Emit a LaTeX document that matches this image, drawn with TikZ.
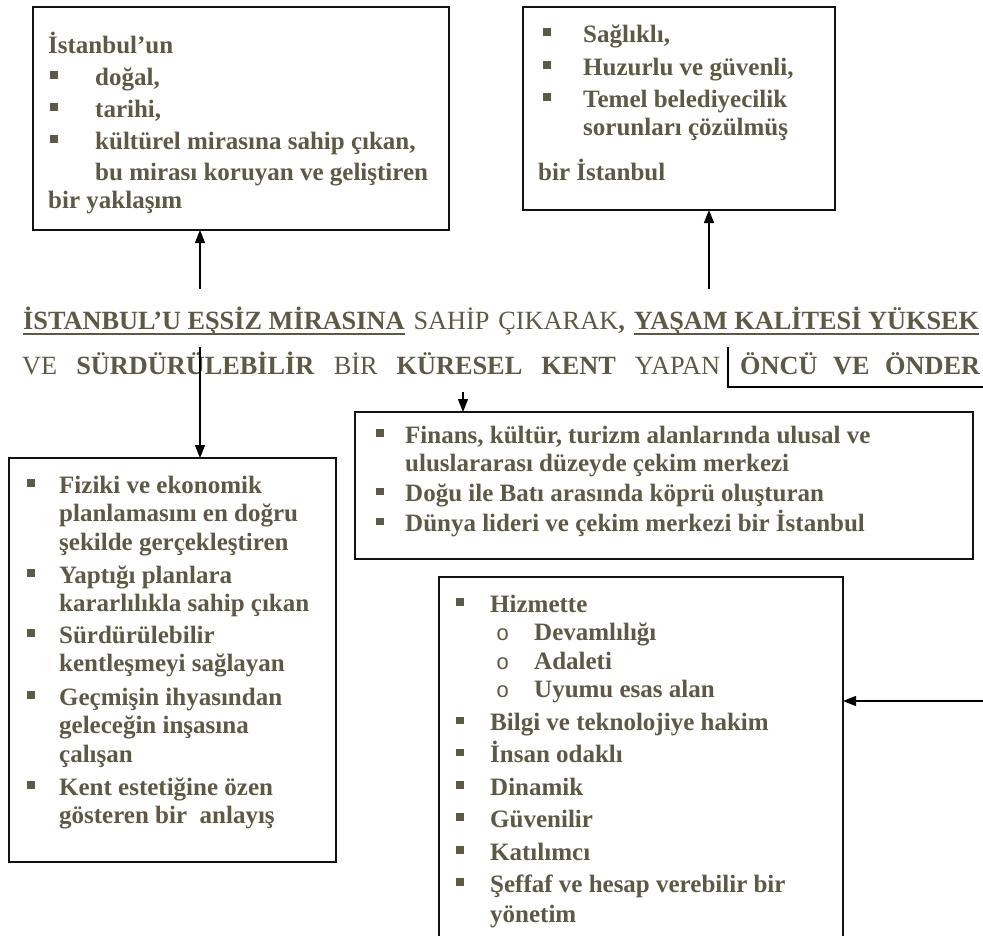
\documentclass[tikz,border=0pt]{standalone}
\usepackage{fontspec}
\setmainfont{Liberation Serif}
\newfontfamily\monofam{Liberation Mono}
\usetikzlibrary{arrows.meta}

\definecolor{ink}{RGB}{94,89,69}
\definecolor{rim}{RGB}{18,18,18}

% square bullet, ring bullet, list rows
\newcommand\sq{\raisebox{6.5pt}{\rule{7.5pt}{7.5pt}}}
\newcommand\ring{{\monofam\mdseries\fontsize{22}{22}\selectfont o}}
\newcommand\bitem[3]{\hbox{\hspace*{#1}\makebox[#2][l]{\sq}#3}}
\newcommand\ritem[3]{\hbox{\hspace*{#1}\makebox[#2][l]{\ring}#3}}
\newcommand\cont[2]{\hbox{\hspace*{#1}#2}}
% underlined phrase
\newcommand\ulbox[1]{\setbox0=\hbox{#1}\rlap{\rule[-6pt]{\wd0}{2pt}}\box0\relax}

\tikzset{
  frame/.style={draw=rim, line width=1.8pt, anchor=north west, inner sep=0pt, outer sep=0pt},
  listtext/.style={anchor=base west, inner sep=0pt, text=ink,
    font=\fontsize{25}{28.5}\selectfont\bfseries},
  titletext/.style={anchor=base west, inner sep=0pt, text=ink,
    font=\fontsize{26.3}{30}\selectfont},
  arr/.style={draw=black, line width=1.3pt, -{Triangle[width=10pt,length=13pt]}},
  wire/.style={draw=black, line width=1.3pt}
}

\begin{document}
\begin{tikzpicture}[x=1pt,y=-1pt]
\useasboundingbox (0,0) rectangle (983,935);
\clip (0,0) rectangle (983,935);
\fill[white] (0,0) rectangle (983,935);

% frames
\node[frame, minimum width=416pt, minimum height=223pt] (boxA) at (33,7) {};
\node[frame, minimum width=312pt, minimum height=203pt] (boxB) at (523,7) {};
\node[frame, minimum width=327pt, minimum height=404pt] (boxL) at (9,458) {};
\node[frame, minimum width=618pt, minimum height=147pt] (boxF) at (355,412) {};
\node[frame, minimum width=404pt, minimum height=400pt] (boxH) at (439,577) {};

% texts in the frames
\node[listtext] (txtA) at (48,53) {\vtop{%
  \cont{0pt}{İstanbul’un}\vskip3.5pt
  \bitem{2pt}{45pt}{doğal,}\vskip3.5pt
  \bitem{2pt}{45pt}{tarihi,}\vskip3.5pt
  \bitem{2pt}{45pt}{kültürel mirasına sahip çıkan,}\vskip2.5pt
  \cont{47pt}{bu mirası koruyan ve geliştiren}\vskip-0.5pt
  \cont{0pt}{bir yaklaşım}}};

\node[listtext] (txtB) at (538,42) {\vtop{%
  \bitem{5pt}{40pt}{Sağlıklı,}\vskip4.5pt
  \bitem{5pt}{40pt}{Huzurlu ve güvenli,}\vskip3.5pt
  \bitem{5pt}{40pt}{Temel belediyecilik}
  \cont{45pt}{sorunları çözülmüş}\vskip16pt
  \cont{0pt}{bir İstanbul}}};

\node[listtext] (txtF) at (376,443) {\vtop{%
  \bitem{0pt}{29pt}{Finans, kültür, turizm alanlarında ulusal ve}
  \cont{29pt}{uluslararası düzeyde çekim merkezi}\vskip1.5pt
  \bitem{0pt}{29pt}{Doğu ile Batı arasında köprü oluşturan}\vskip1.5pt
  \bitem{0pt}{29pt}{Dünya lideri ve çekim merkezi bir İstanbul}}};

\node[listtext] (txtL) at (27,493) {\vtop{%
  \bitem{0pt}{32pt}{Fiziki ve ekonomik}
  \cont{32pt}{planlamasını en doğru}
  \cont{32pt}{şekilde gerçekleştiren}\vskip4.5pt
  \bitem{0pt}{32pt}{Yaptığı planlara}
  \cont{32pt}{kararlılıkla sahip çıkan}\vskip3pt
  \bitem{0pt}{32pt}{Sürdürülebilir}
  \cont{32pt}{kentleşmeyi sağlayan}\vskip5pt
  \bitem{0pt}{32pt}{Geçmişin ihyasından}
  \cont{32pt}{geleceğin inşasına}
  \cont{32pt}{çalışan}\vskip4.5pt
  \bitem{0pt}{32pt}{Kent estetiğine özen}
  \cont{32pt}{gösteren bir~ anlayış}}};

\node[listtext] (txtH) at (456,612) {\vtop{%
  \bitem{0pt}{34pt}{Hizmette}
  \ritem{40pt}{38pt}{Devamlılığı}
  \ritem{40pt}{38pt}{Adaleti}
  \ritem{40pt}{38pt}{Uyumu esas alan}\vskip4.5pt
  \bitem{0pt}{34pt}{Bilgi ve teknolojiye hakim}\vskip3.5pt
  \bitem{0pt}{34pt}{İnsan odaklı}\vskip4pt
  \bitem{0pt}{34pt}{Dinamik}\vskip3.5pt
  \bitem{0pt}{34pt}{Güvenilir}\vskip4.5pt
  \bitem{0pt}{34pt}{Katılımcı}\vskip3.5pt
  \bitem{0pt}{34pt}{Şeffaf ve hesap verebilir bir}\vskip1.5pt
  \cont{34pt}{yönetim}}};

% central statement
\node[titletext] (t1) at (23,329) {\makebox[956pt][s]{\ulbox{\bfseries İSTANBUL’U EŞSİZ MİRASINA} SAHİP ÇIKARAK\textbf{, }\ulbox{\bfseries YAŞAM KALİTESİ YÜKSEK}}};
\node[titletext] (t2a) at (22,374) {\makebox[698pt][s]{VE \textbf{SÜRDÜRÜLEBİLİR} BİR \textbf{KÜRESEL KENT} YAPAN}};
\node[titletext] (t2b) at (740,374) {\makebox[240pt][s]{\bfseries ÖNCÜ VE ÖNDER}};

% connector end points
\coordinate (upA) at (200,289);
\coordinate (upB) at (709,289);
\coordinate (dnL) at (200,347);
\coordinate (dnF) at (463,392);
\coordinate (inH) at (983,701);
\coordinate (brTop) at (728,347);
\coordinate (brEnd) at (983,387);

% connectors
\draw[arr] (upA) -- (upA |- boxA.south);
\draw[arr] (upB) -- (upB |- boxB.south);
\draw[arr] (dnL) -- (dnL |- boxL.north);
\draw[arr] (dnF) -- (dnF |- boxF.north);
\draw[arr] (inH) -- (inH -| boxH.east);
\draw[wire] (brTop) |- (brEnd);
\end{tikzpicture}
\end{document}
